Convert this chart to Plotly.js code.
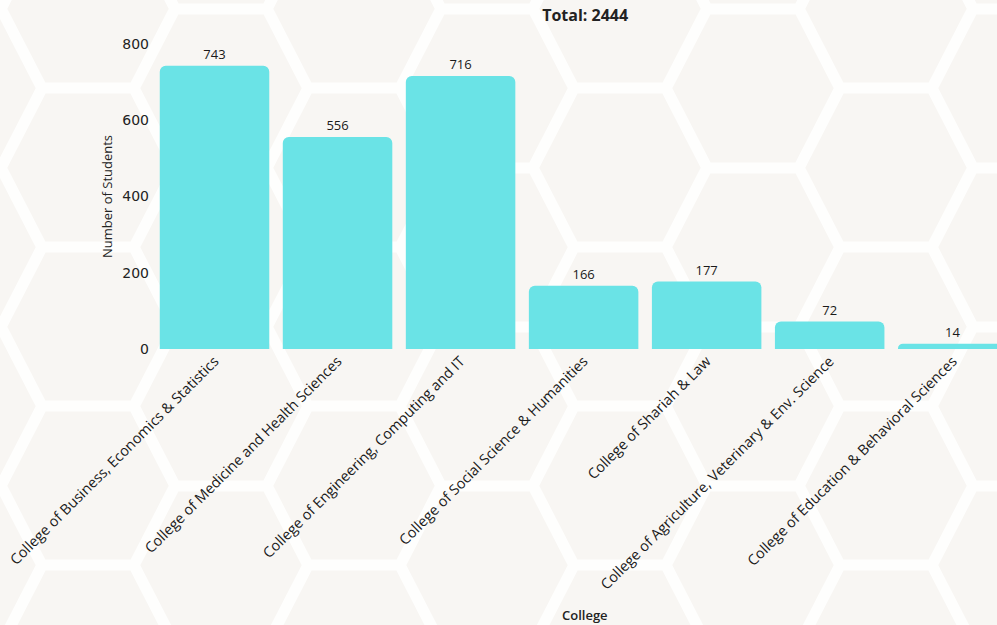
<!DOCTYPE html>
<html>
<head>
<meta charset="utf-8">
<script src="https://cdn.plot.ly/plotly-3.0.1.min.js"></script>
<style>
  html, body { margin: 0; padding: 0; width: 997px; height: 625px; overflow: hidden; }
  body { background-color: #faf8f6; }
  #chart { width: 997px; height: 625px; }
</style>
</head>
<body>
<div id="chart"></div>
<script>
// ---- data ----
const colleges = [
  "College of Business, Economics & Statistics",
  "College of Medicine and Health Sciences",
  "College of Engineering, Computing and IT",
  "College of Social Science & Humanities",
  "College of Shariah & Law",
  "College of Agriculture, Veterinary & Env. Science",
  "College of Education & Behavioral Sciences"
];
const students = [743, 556, 716, 166, 177, 72, 14];
const titleText = "Total: 2444";
const yTicks = [0, 200, 400, 600, 800];

// ---- decorative hexagon background ----
(function () {
  const W = 997, H = 625;
  const d = 133, a = 46, h = 79.5;
  let paths = "";
  for (let i = -1; i <= 8; i++) {
    const cx = 88 + d * i;
    const baseY = (i % 2 === 0) ? 167.5 : 88.5;
    for (let k = -2; k <= 5; k++) {
      const cy = baseY + 159 * k;
      const pts = [
        [cx - a, cy - h], [cx + a, cy - h], [cx + (d - a), cy],
        [cx + a, cy + h], [cx - a, cy + h], [cx - (d - a), cy]
      ];
      paths += "M" + pts.map(p => p[0].toFixed(1) + "," + p[1].toFixed(1)).join("L") + "Z";
    }
  }
  const svg = '<svg xmlns="http://www.w3.org/2000/svg" width="' + W + '" height="' + H + '">' +
    '<rect width="100%" height="100%" fill="#f8f6f3"/>' +
    '<path d="' + paths + '" fill="none" stroke="#fefefd" stroke-width="11" stroke-linejoin="miter"/></svg>';
  document.body.style.backgroundImage = 'url("data:image/svg+xml;utf8,' + encodeURIComponent(svg) + '")';
  document.body.style.backgroundRepeat = 'no-repeat';
})();

const trace = {
  type: "bar",
  x: colleges,
  y: students,
  text: students.map(String),
  textposition: "outside",
  cliponaxis: false,
  textfont: { family: "Open Sans, sans-serif", size: 13, color: "#1a1a1a" },
  marker: { color: "#6ae3e6" },
  hoverinfo: "x+y"
};

const layout = {
  width: 997,
  height: 625,
  margin: { l: 153, r: 0, t: 44, b: 276 },
  paper_bgcolor: "rgba(0,0,0,0)",
  plot_bgcolor: "rgba(0,0,0,0)",
  bargap: 0.11,
  barcornerradius: 6,
  showlegend: false,
  title: {
    text: titleText,
    x: 0.512, xref: "paper", xanchor: "center",
    y: 0.976, yref: "container", yanchor: "middle",
    font: { family: "Open Sans, sans-serif", size: 16, color: "#222", weight: 700 }
  },
  xaxis: {
    type: "category",
    range: [-0.5, 6.36],
    tickangle: -45,
    showgrid: false,
    zeroline: false,
    showline: false,
    ticks: "",
    automargin: false,
    tickfont: { family: "Open Sans, sans-serif", size: 14.5, color: "#1a1a1a" },
    title: { text: "" }
  },
  yaxis: {
    range: [0, 800],
    tickvals: yTicks,
    showgrid: false,
    zeroline: false,
    showline: false,
    ticks: "",
    ticklabelstandoff: 3,
    automargin: false,
    tickfont: { family: "DejaVu Sans, sans-serif", size: 14, color: "#222" },
    title: {
      text: "Number of Students",
      standoff: 6,
      font: { family: "Open Sans, sans-serif", size: 13, color: "#222" }
    }
  },
  annotations: [{
    text: "College",
    xref: "paper", yref: "paper",
    x: 0.512, y: -0.872,
    xanchor: "center", yanchor: "middle",
    showarrow: false,
    font: { family: "Open Sans, sans-serif", size: 13, color: "#222", weight: 600 }
  }]
};

Plotly.newPlot("chart", [trace], layout, { displayModeBar: false, responsive: false });
</script>
</body>
</html>
